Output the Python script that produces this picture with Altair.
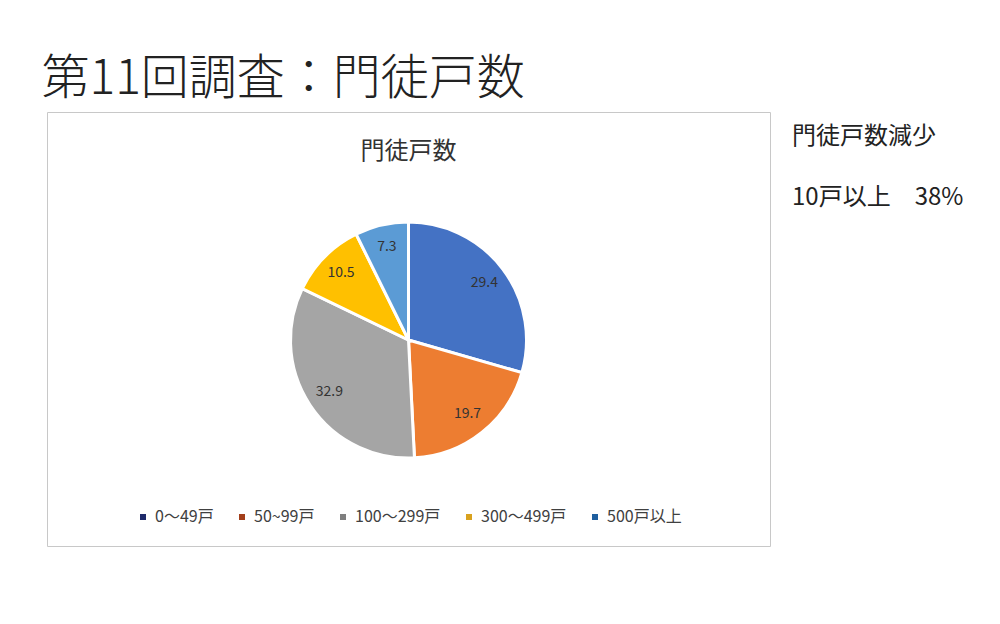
import altair as alt
import pandas as pd

# ------------------------------------------------------------
# data
# ------------------------------------------------------------
categories = ["0～49戸", "50~99戸", "100～299戸", "300～499戸", "500戸以上"]
values = [29.4, 19.7, 32.9, 10.5, 7.3]
pie_colors = ["#4472C4", "#ED7D31", "#A5A5A5", "#FFC000", "#5B9BD5"]
legend_colors = ["#1F2A6B", "#A33F1B", "#7F7F7F", "#D9A21F", "#1F5F9F"]

main_title = "第11回調査：門徒戸数"
chart_title = "門徒戸数"
side_lines = ["門徒戸数減少", "10戸以上　38%"]

FONT = "Noto Sans CJK JP"

df = pd.DataFrame({
    "category": categories,
    "value": values,
    "order": list(range(len(categories))),
})

# box (plot area) size and pie centre
W, H = 723, 434
CX, CY = W / 2, 228

# ------------------------------------------------------------
# pie panel
# ------------------------------------------------------------
base = alt.Chart(df).encode(
    theta=alt.Theta("value:Q", stack=True),
    order=alt.Order("order:Q"),
)

pie = base.mark_arc(outerRadius=118, stroke="white", strokeWidth=3).encode(
    color=alt.Color("category:N",
                    scale=alt.Scale(domain=categories, range=pie_colors),
                    legend=None),
    x=alt.value(CX), y=alt.value(CY),
)

labels = base.mark_text(radius=95, fontSize=14, color="#333333", font=FONT).encode(
    text=alt.Text("value:Q", format=".1f"),
    x=alt.value(CX), y=alt.value(CY),
)

inner_title = alt.Chart(pd.DataFrame({"t": [chart_title]})).mark_text(
    fontSize=24, font=FONT, color="#333333"
).encode(text="t:N", x=alt.value(CX), y=alt.value(40))

# legend with darker swatches (as in the original), drawn from an invisible layer
legend_layer = alt.Chart(df).mark_square(opacity=0, size=0).encode(
    color=alt.Color(
        "category:N",
        scale=alt.Scale(domain=categories, range=legend_colors),
        legend=alt.Legend(
            title=None, orient="none", direction="horizontal",
            legendX=88, legendY=397,
            symbolType="square", symbolSize=36, symbolOpacity=1,
            symbolStrokeWidth=0,
            labelFontSize=16, labelFont=FONT, labelColor="#404040",
            columnPadding=20,
        ),
    ),
    x=alt.value(CX), y=alt.value(CY),
)

pie_panel = (
    alt.layer(pie, labels, inner_title, legend_layer)
    .resolve_scale(color="independent")
    .properties(width=W, height=H,
                view=alt.ViewBackground(stroke="#c8c8c8", strokeWidth=1))
)

# ------------------------------------------------------------
# side notes
# ------------------------------------------------------------
side_df = pd.DataFrame({"t": side_lines})
note1 = alt.Chart(side_df.iloc[[0]]).mark_text(
    align="left", baseline="middle", fontSize=24, font=FONT, color="#222222"
).encode(text="t:N", x=alt.value(0), y=alt.value(25))
note2 = alt.Chart(side_df.iloc[[1]]).mark_text(
    align="left", baseline="middle", fontSize=24, font=FONT, color="#222222"
).encode(text="t:N", x=alt.value(0), y=alt.value(86))

side_panel = alt.layer(note1, note2).properties(width=190, height=H)

# ------------------------------------------------------------
# combine
# ------------------------------------------------------------
chart = (
    alt.hconcat(pie_panel, side_panel, spacing=21)
    .properties(
        title=alt.TitleParams(main_title, fontSize=48, anchor="start", font=FONT,
                              fontWeight=300, color="#222222", offset=8, dx=-5),
        padding={"left": 33, "top": 47, "right": 0, "bottom": 0},
        background="white",
    )
    .configure_view(strokeWidth=0)
)

chart.save("out.html", embed_options={"renderer": "svg", "actions": False})
